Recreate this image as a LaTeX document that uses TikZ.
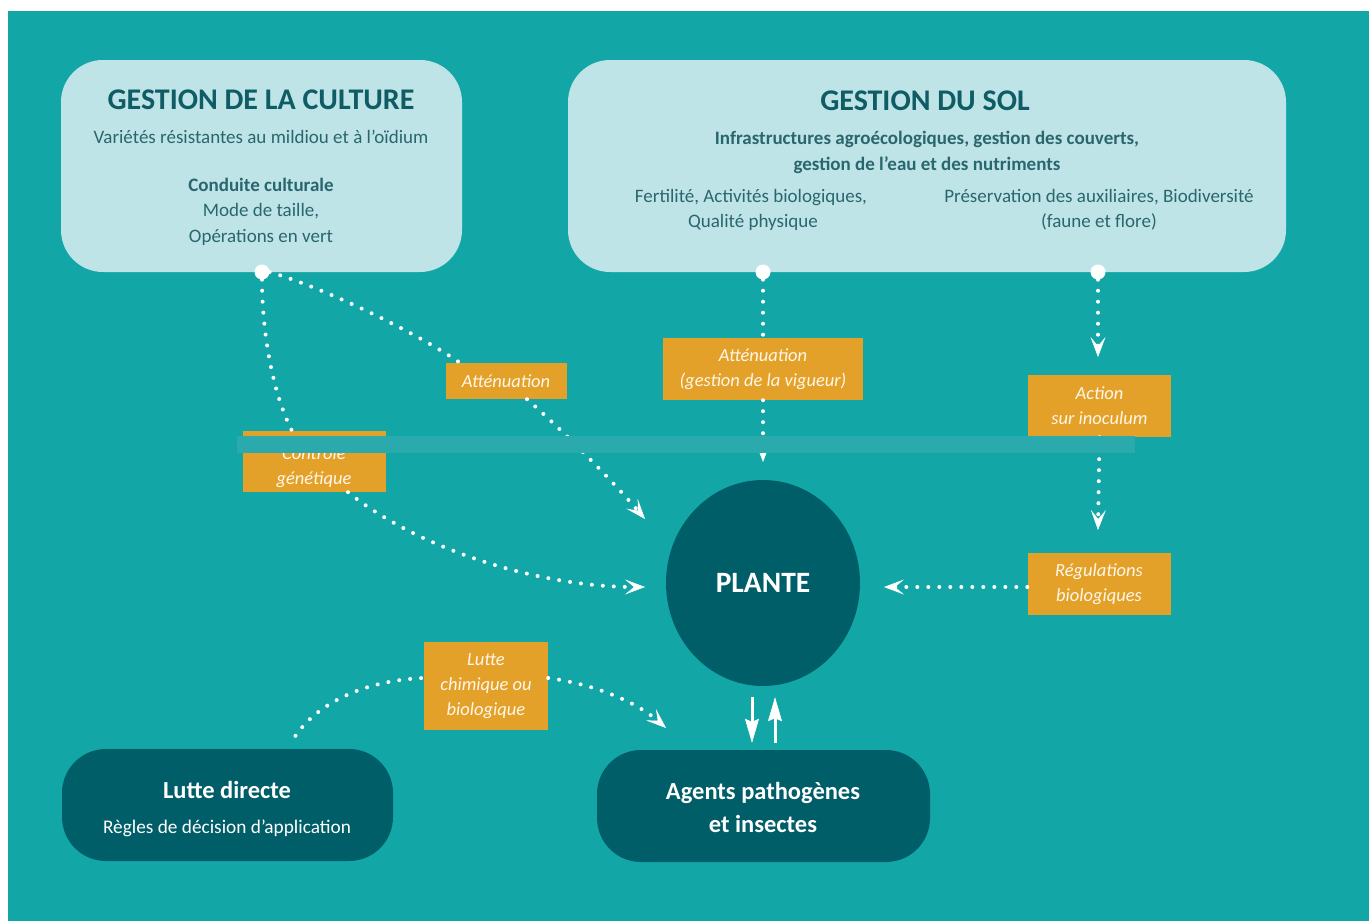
\documentclass[tikz,border=0pt]{standalone}
\usepackage{fontspec}
\setmainfont{Carlito}
\usetikzlibrary{arrows.meta,shapes.geometric}
\definecolor{bgteal}{HTML}{13A6A6}
\definecolor{lightbox}{HTML}{BEE4E8}
\definecolor{darkbox}{HTML}{005E69}
\definecolor{orangebox}{HTML}{E4A129}
\definecolor{bandcol}{HTML}{2AAAAC}
\definecolor{titlecol}{HTML}{0F5C65}
\definecolor{bodycol}{HTML}{2A666D}
\definecolor{labelcol}{HTML}{FFF7EA}
\tikzset{
  lightpanel/.style={fill=lightbox, rounded corners=42pt, inner sep=0pt},
  darkpanel/.style={fill=darkbox, rounded corners=44pt, inner sep=0pt},
  labeltext/.style={inner sep=0pt, text=labelcol, font=\fontsize{18.5}{25}\selectfont\itshape, align=center},
  orangelabel/.style={labeltext, fill=orangebox},
  titletext/.style={text=titlecol, font=\fontsize{30}{32}\selectfont\bfseries, anchor=base, inner sep=0pt},
  bodytext/.style={text=bodycol, font=\fontsize{19}{22}\selectfont, anchor=base, inner sep=0pt},
  bodybold/.style={text=bodycol, font=\fontsize{19}{22}\selectfont\bfseries, anchor=base, inner sep=0pt},
  whitebold/.style={text=white, font=\fontsize{24.5}{28}\selectfont\bfseries, anchor=base, inner sep=0pt},
  whitebody/.style={text=white, font=\fontsize{19.3}{22}\selectfont, anchor=base, inner sep=0pt},
  dotline/.style={draw=white, line width=4pt, line cap=round, dash pattern=on 0pt off 11pt},
  tipped/.style={-{Stealth[length=20pt,width=15pt,inset=9pt,line width=0.5pt,fill=white]}},
  solidarrow/.style={draw=white, line width=3pt, -{Stealth[length=24pt,width=14pt,inset=3pt,line width=0.5pt,fill=white]}},
  startdot/.style={circle, fill=white, inner sep=0pt, minimum size=15pt},
}
\begin{document}
\begin{tikzpicture}[x=1pt,y=-1pt]
\useasboundingbox (0,0) rectangle (1369,921);
\fill[white] (0,0) rectangle (1369,921);
\fill[bgteal] (8,11) rectangle (1369,921);

% top panels
\node[lightpanel, minimum width=401pt, minimum height=212pt] (culture) at (261.5,166) {};
\node[lightpanel, minimum width=718pt, minimum height=212pt] (sol) at (927,166) {};

\node[titletext] (ctitle) at (261,109) {GESTION DE LA CULTURE};
\node[bodytext] (cvar) at (261,143) {Variétés résistantes au mildiou et à l’oïdium};
\node[bodybold] (ccond) at (261,191) {Conduite culturale};
\node[bodytext] (cmode) at (261,216) {Mode de taille,};
\node[bodytext] (cops) at (261,242) {Opérations en vert};

\node[titletext] (stitle) at (925,110) {GESTION DU SOL};
\node[bodybold] (sinf1) at (927,144) {Infrastructures agroécologiques, gestion des couverts,};
\node[bodybold] (sinf2) at (927,170) {gestion de l’eau et des nutriments};
\node[bodytext] (sfert1) at (751,202) {Fertilité, Activités biologiques,};
\node[bodytext] (sfert2) at (753,227) {Qualité physique};
\node[bodytext] (spres1) at (1099,202) {Préservation des auxiliaires, Biodiversité};
\node[bodytext] (spres2) at (1099,227) {(faune et flore)};

% start dots
\node[startdot] (d1) at (262,272) {};
\node[startdot] (d2) at (763,272) {};
\node[startdot] (d3) at (1098,272) {};

% orange labels
\node[orangelabel, minimum width=121pt, minimum height=36pt] (att1) at (506,381) {Atténuation};
\node[orangelabel, minimum width=200pt, minimum height=62pt] (att2) at (763,369) {Atténuation\\(gestion de la vigueur)};
\node[orangelabel, minimum width=143pt, minimum height=62pt] (act) at (1099.5,406) {Action\\sur inoculum};
\node[orangelabel, minimum width=143pt, minimum height=61pt] (cg) at (314,461.5) {};
\node[labeltext] (cgtext) at (314,467) {Contrôle\\génétique};
\node[orangelabel, minimum width=143pt, minimum height=62pt] (reg) at (1099,584) {Régulations\\biologiques};
\node[orangelabel, minimum width=124pt, minimum height=88pt] (lcb) at (486,686) {Lutte\\chimique ou\\biologique};

% plant
\node[ellipse, fill=darkbox, minimum width=194pt, minimum height=206pt, inner sep=0pt, text=white, font=\fontsize{29.5}{32}\selectfont\bfseries] (plante) at (763,583) {PLANTE};

% bottom panels
\node[darkpanel, minimum width=331pt, minimum height=112pt] (lutte) at (227.5,805) {};
\node[whitebold] (ltitle) at (227,798) {Lutte directe};
\node[whitebody] (lregl) at (227,833) {Règles de décision d’application};
\node[darkpanel, minimum width=333pt, minimum height=112pt] (agents) at (763.5,806) {};
\node[whitebold] (ag1) at (763,799) {Agents pathogènes};
\node[whitebold] (ag2) at (763,832) {et insectes};

% arrow end points
\coordinate (t1) at (645,587);
\coordinate (t2) at (645,519);
\coordinate (t3) at (763,462);
\coordinate (t4a) at (1098,357);
\coordinate (t4b) at (1098,530);
\coordinate (t5) at (884,587);
\coordinate (t6) at (666,728);

% connectors
\draw[dotline] (d1.south) .. controls (262,330) and (272,392) .. ([xshift=-22pt]cg.north);
\draw[dotline,tipped] ([xshift=34pt]cg.south) .. controls (420,550) and (540,587) .. (t1);
\draw[dotline] (d1.east) .. controls (330,290) and (420,335) .. ([xshift=-46pt]att1.north);
\draw[dotline,tipped] ([xshift=21pt]att1.south) .. controls (560,428) and (610,478) .. (t2);
\draw[dotline] (d2.south) -- (att2.north);
\draw[dotline,tipped] (att2.south) -- (t3);
\draw[dotline,tipped] (d3.south) -- (t4a);
\draw[dotline,tipped] (act.south) -- (t4b);
\draw[dotline,tipped] ([yshift=-3pt]reg.west) -- (t5);
\draw[dotline] ([xshift=68pt,yshift=13pt]lutte.north) .. controls (320,700) and (370,680) .. ([yshift=8pt]lcb.west);
\draw[dotline,tipped] ([yshift=8pt]lcb.east) .. controls (600,685) and (640,705) .. (t6);

\draw[solidarrow, shorten <=11pt, shorten >=7pt] ([xshift=-11pt]plante.south) -- ([xshift=-11.5pt]agents.north);
\draw[solidarrow, shorten <=7pt, shorten >=11pt] ([xshift=11.5pt]agents.north) -- ([xshift=12pt]plante.south);

% translucent band across the middle
\fill[bandcol] (237,436) rectangle (1135,453);
\end{tikzpicture}
\end{document}
